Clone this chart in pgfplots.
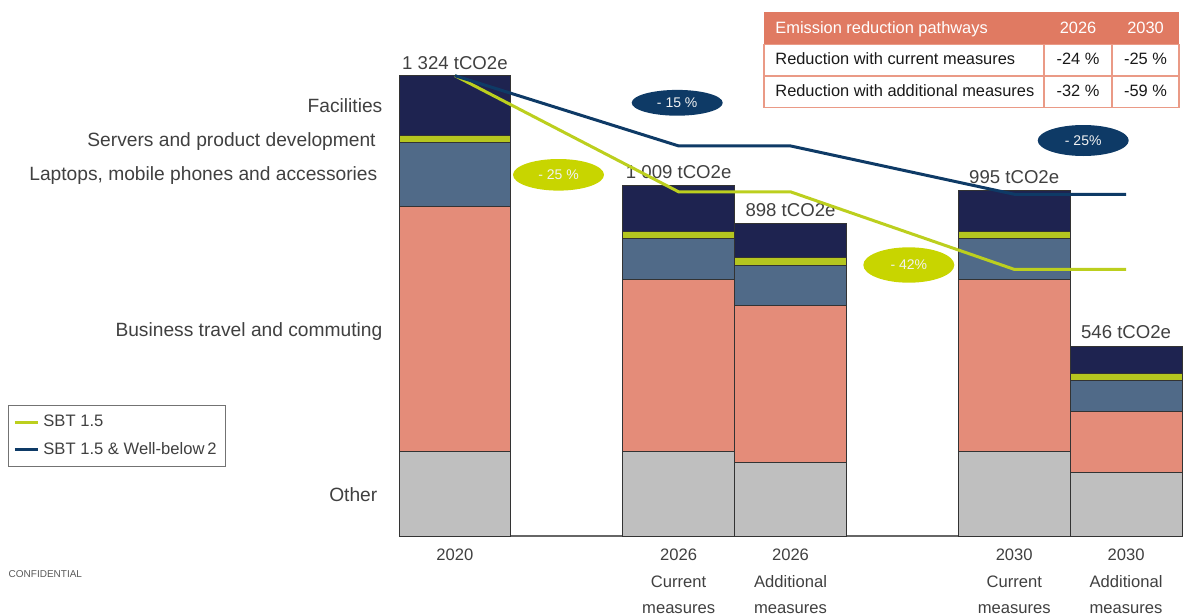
\documentclass[border=0pt]{standalone}
\usepackage{pgfplots}
\pgfplotsset{compat=1.18}
\usepackage{fontspec}
\setmainfont{Liberation Sans}
\usetikzlibrary{shapes.geometric}

\definecolor{cOther}{HTML}{BFBFBF}
\definecolor{cTravel}{HTML}{E48C79}
\definecolor{cLaptop}{HTML}{506A88}
\definecolor{cServer}{HTML}{B5C61F}
\definecolor{cFacil}{HTML}{1E2350}
\definecolor{cGreen}{HTML}{BCCF1E}
\definecolor{cGreenE}{HTML}{C8D500}
\definecolor{cBlue}{HTML}{0E3A66}
\definecolor{cHead}{HTML}{E07A62}
\definecolor{cBorder}{HTML}{EA9A86}
\definecolor{cText}{HTML}{404040}
\tikzset{vlab/.style={anchor=base, font=\fontsize{9.3}{11}\selectfont, text=cText, inner sep=0pt}}

\begin{document}
\begin{tikzpicture}
\useasboundingbox (0,0) rectangle (593pt,-307.5pt);
\begin{axis}[
  at={(199.5pt,-268pt)}, anchor=south west,
  scale only axis, width=391.5pt, height=230.15pt,
  xmin=-0.5, xmax=6.5, ymin=0, ymax=1324,
  ybar stacked, bar width=1,
  axis y line=none, axis x line*=bottom,
  x axis line style={draw=black!60, line width=0.6pt},
  xtick={0,2,3,5,6}, major tick length=0pt,
  xticklabels={2020,{2026\\Current\\measures},{2026\\Additional\\measures},{2030\\Current\\measures},{2030\\Additional\\measures}},
  xticklabel style={align=center, font=\fontsize{8.3}{13.3}\selectfont, text=cText, anchor=north, inner sep=0pt, yshift=-6.2pt},
  clip=false,
]
\addplot[fill=cOther, draw=black!80, line width=0.5pt] coordinates {(0,243) (2,243) (3,212) (5,243) (6,182)};
\addplot[fill=cTravel, draw=black!80, line width=0.5pt] coordinates {(0,705) (2,496) (3,452) (5,496) (6,176)};
\addplot[fill=cLaptop, draw=black!80, line width=0.5pt] coordinates {(0,183) (2,117) (3,114) (5,116) (6,88)};
\addplot[fill=cServer, draw=black!80, line width=0.5pt] coordinates {(0,20) (2,21) (3,22) (5,22) (6,21)};
\addplot[fill=cFacil, draw=black!80, line width=0.5pt] coordinates {(0,173) (2,132) (3,98) (5,118) (6,79)};
\node[vlab, yshift=3.3pt] at (axis cs:0,1324) {1 324 tCO2e};
\node[vlab, yshift=3.3pt] at (axis cs:2,1009) {1 009 tCO2e};
\node[vlab, yshift=3.5pt] at (axis cs:3,898) {898 tCO2e};
\node[vlab, yshift=3.5pt] at (axis cs:5,995) {995 tCO2e};
\node[vlab, yshift=3.7pt] at (axis cs:6,546) {546 tCO2e};
\end{axis}

\begin{axis}[
  at={(199.5pt,-268pt)}, anchor=south west,
  scale only axis, width=391.5pt, height=230.15pt,
  xmin=-0.5, xmax=6.5, ymin=0, ymax=1324,
  hide axis, clip=false,
  legend style={at={(axis description cs:-0.4995,0.284)}, anchor=north west,
    draw=black!55, line width=0.5pt, font=\fontsize{8.3}{10}\selectfont, text=cText,
    cells={anchor=west}, inner xsep=2.5pt, inner ysep=2.5pt, row sep=2.3pt},
  legend image code/.code={\draw[#1, line width=1.5pt] (0pt,0pt) -- (11.5pt,0pt);},
]
\addplot[cGreen, line width=1.5pt] coordinates {(0,1324) (2,990) (3,990) (5,767) (6,767)};
\addlegendentry{SBT 1.5}
\addplot[cBlue, line width=1.5pt] coordinates {(0,1324) (2,1122) (3,1122) (5,983) (6,983)};
\addlegendentry{SBT 1.5 \& Well-below\,2}
\end{axis}

\begin{scope}[x=0.5pt, y=-0.5pt]
% table
\fill[cHead] (764,12.3) rectangle (1179,44.3);
\draw[cBorder, line width=0.75pt] (764,44.3) rectangle (1179,107.3);
\draw[cBorder, line width=0.75pt] (764,76) -- (1179,76);
\draw[cBorder, line width=0.75pt] (1044,44.3) -- (1044,107.3);
\draw[cBorder, line width=0.75pt] (1112,44.3) -- (1112,107.3);
\begin{scope}[every node/.style={inner sep=0pt, font=\fontsize{8.2}{10}\selectfont}]
\node[anchor=base west, text=white] at (775,33.3) {Emission reduction pathways};
\node[anchor=base, text=white] at (1078,33.3) {2026};
\node[anchor=base, text=white] at (1145.5,33.3) {2030};
\node[anchor=base west, text=black!90] at (775,65) {Reduction with current measures};
\node[anchor=base, text=black!90] at (1078,65) {-24 \%};
\node[anchor=base, text=black!90] at (1145.5,65) {-25 \%};
\node[anchor=base west, text=black!90] at (775,96.7) {Reduction with additional measures};
\node[anchor=base, text=black!90] at (1078,96.7) {-32 \%};
\node[anchor=base, text=black!90] at (1145.5,96.7) {-59 \%};
\end{scope}
% ellipses
\begin{scope}[every node/.style={ellipse, inner sep=0pt, text=white!95!black, font=\fontsize{7}{8}\selectfont}]
\node[fill=cBlue, minimum width=45.5pt, minimum height=12.9pt] at (677.2,102.8) {- 15 \%};
\node[fill=cBlue, minimum width=45.5pt, minimum height=15.5pt] at (1083.2,140.5) {- 25\%};
\node[fill=cGreenE, minimum width=45.5pt, minimum height=15.8pt] at (558.5,174.8) {- 25 \%};
\node[fill=cGreenE, minimum width=45.5pt, minimum height=17.7pt] at (908.8,265) {- 42\%};
\end{scope}
% category labels
\begin{scope}[every node/.style={anchor=base east, inner sep=0pt, text=cText, font=\fontsize{9.6}{11}\selectfont}]
\node at (382.7,112.3) {Facilities};
\node at (376,146) {Servers and product development};
\node at (377.7,180) {Laptops, mobile phones and accessories};
\node at (382.7,336) {Business travel and commuting};
\node at (377.7,501) {Other};
\end{scope}
\node[anchor=base west, inner sep=0pt, text=black!65, font=\fontsize{5}{6}\selectfont] at (8.3,577.3) {CONFIDENTIAL};
\end{scope}
\end{tikzpicture}
\end{document}
